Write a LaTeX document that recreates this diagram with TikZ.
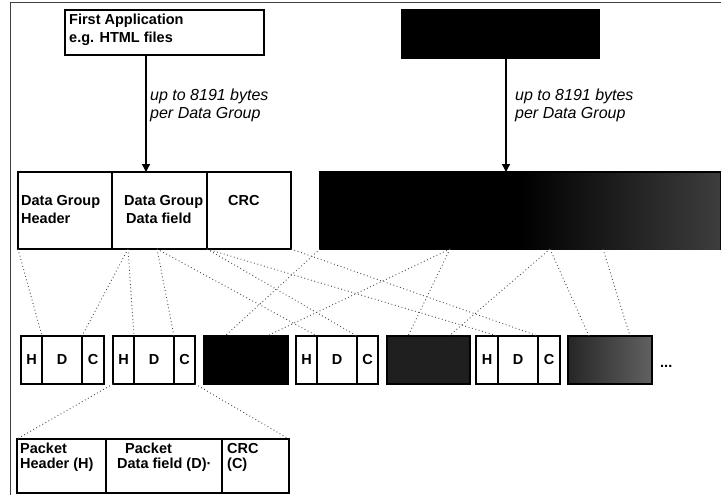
\documentclass[tikz,border=0pt]{standalone}
\usepackage{fontspec}
\setmainfont{Liberation Sans}
\usetikzlibrary{arrows.meta}
\begin{document}
\begin{tikzpicture}[x=1pt,y=-1pt,
  box/.style={draw, line width=1.5pt, inner sep=0pt, outer sep=0pt, anchor=north west},
  cell/.style={box, minimum height=48pt, font=\fontsize{14.5}{15}\selectfont\bfseries},
  lbl/.style={anchor=base west, inner sep=0pt, font=\fontsize{14.5}{15}\selectfont\bfseries},
  ital/.style={anchor=base west, inner sep=0pt, font=\fontsize{16}{18}\selectfont\itshape},
  arr/.style={line width=1.4pt, -{Triangle[length=8pt,width=8pt]}},
  dots/.style={black!70, line width=0.9pt, dash pattern=on 0.9pt off 2.6pt},
  frame/.style={black!75, line width=1pt}]
\useasboundingbox (0,0) rectangle (721,495);
\draw[frame] (10,495) -- (10,3) -- (721,3);

% top boxes
\node[box, minimum width=199pt, minimum height=45pt] (app1) at (65,10) {};
\node[lbl] (t1a) at (69,25) {First Application};
\node[lbl] (t1b) at (69,43) {e.g. HTML files};
\node[box, fill=black, minimum width=197pt, minimum height=48pt] (app2) at (402,10) {};

% data group row
\node[box, minimum width=94pt, minimum height=77pt] (dgh) at (18,172) {};
\node[box, minimum width=95pt, minimum height=77pt] (dgd) at (112,172) {};
\node[box, minimum width=84pt, minimum height=77pt] (dgc) at (207,172) {};
\node[box, fill=black, minimum width=401pt, minimum height=77pt] (dk) at (320,172) {};
\shade[left color=black, right color=black!76] ([xshift=200pt]dk.south west) rectangle ([xshift=-1pt, yshift=-1pt]dk.north east);
\node[lbl] (g1a) at (21,205) {Data Group};
\node[lbl] (g1b) at (21,223) {Header};
\node[lbl] (g2a) at (124,205) {Data Group};
\node[lbl] (g2b) at (126,223) {Data field};
\node[lbl] (g3a) at (228,205) {CRC};

% arrows
\coordinate (a1) at (146,0);
\coordinate (a2) at (506,0);
\draw[arr] (app1.south -| a1) -- (dgd.north -| a1);
\draw[arr] (app2.south -| a2) -- (dk.north -| a2);
\node[ital] (l1a) at (150,101) {up to 8191 bytes};
\node[ital] (l1b) at (150,119) {per Data Group};
\node[ital] (l2a) at (515,101) {up to 8191 bytes};
\node[ital] (l2b) at (515,119) {per Data Group};

% packets
\node[cell, minimum width=21pt] (p1h) at (21,336) {H};
\node[cell, minimum width=40pt] (p1d) at (42,336) {D};
\node[cell, minimum width=22pt] (p1c) at (82,336) {C};
\node[cell, minimum width=21pt] (p2h) at (113,336) {H};
\node[cell, minimum width=40pt] (p2d) at (134,336) {D};
\node[cell, minimum width=21pt] (p2c) at (174,336) {C};
\node[cell, fill=black, minimum width=84pt] (p3) at (204,336) {};
\node[cell, minimum width=21pt] (p4h) at (296,336) {H};
\node[cell, minimum width=40pt] (p4d) at (317,336) {D};
\node[cell, minimum width=21pt] (p4c) at (357,336) {C};
\node[cell, fill=black!88, minimum width=83pt] (p5) at (387,336) {};
\node[cell, minimum width=22pt] (p6h) at (476,336) {H};
\node[cell, minimum width=40pt] (p6d) at (498,336) {D};
\node[cell, minimum width=22pt] (p6c) at (538,336) {C};
\node[cell, draw=black, left color=black!85, right color=black!62, minimum width=84pt] (p7) at (568,336) {};
\node[lbl] (more) at (660,367) {...};

% packet detail
\node[box, minimum width=89pt, minimum height=54pt] (det1) at (17,439) {};
\node[box, minimum width=116pt, minimum height=54pt] (det2) at (106,439) {};
\node[box, minimum width=67pt, minimum height=54pt] (det3) at (222,439) {};
\node[lbl] (d1a) at (20,453) {Packet};
\node[lbl] (d1b) at (20,468) {Header (H)};
\node[lbl] (d2a) at (125,453) {Packet};
\node[lbl] (d2b) at (117,468) {Data field (D)\textperiodcentered};
\node[lbl] (d3a) at (227,453) {CRC};
\node[lbl] (d3b) at (227,468) {(C)};

% connector points
\coordinate (w1) at (128,249);
\coordinate (w2) at (157,249);
\coordinate (k1) at (450,249);
\coordinate (k2) at (550,249);
\coordinate (k3) at (603,249);
\coordinate (q3a) at (225,336);
\coordinate (q3b) at (267,336);
\coordinate (q5a) at (408,336);
\coordinate (q5b) at (449,336);
\coordinate (q7a) at (589,336);
\coordinate (q7b) at (630,336);

% white group connectors
\draw[dots] (dgh.south west) -- (p1d.north west);
\draw[dots] (w1) -- (p1c.north west);
\draw[dots] (w1) -- (p2d.north west);
\draw[dots] (w2) -- (p2c.north west);
\draw[dots] (w2) -- (p4d.north west);
\draw[dots] (dgc.south west) -- (p4c.north west);
\draw[dots] (dgc.south west) -- (p6d.north west);
\draw[dots] (dgc.south east) -- (p6c.north west);
% dark group connectors
\draw[dots] (dk.south west) -- (q3a);
\draw[dots] (k1) -- (q3b);
\draw[dots] (k1) -- (q5a);
\draw[dots] (k2) -- (q5b);
\draw[dots] (k2) -- (q7a);
\draw[dots] (k3) -- (q7b);
% detail connectors
\draw[dots] (p2h.south west) -- (det1.north west);
\draw[dots] (p2c.south east) -- (det3.north east);
\end{tikzpicture}
\end{document}
